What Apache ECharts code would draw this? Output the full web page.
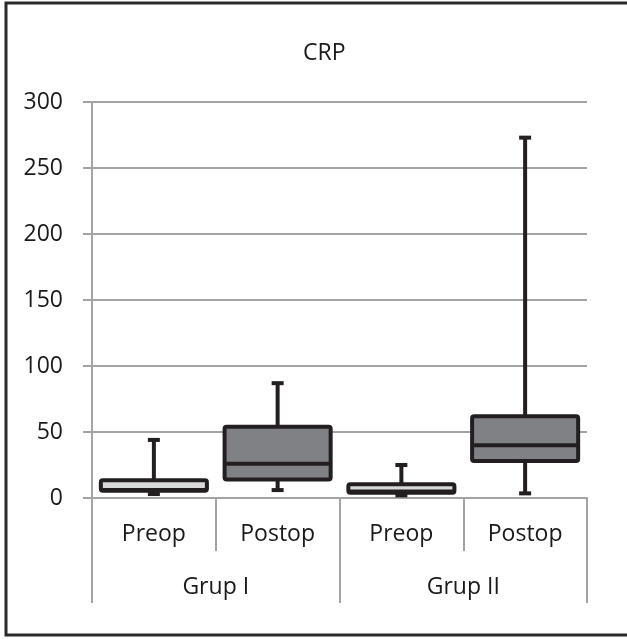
<!DOCTYPE html>
<html>
<head>
<meta charset="utf-8">
<script src="https://cdn.jsdelivr.net/npm/echarts@6/dist/echarts.min.js"></script>
<style>
  html, body { margin: 0; padding: 0; background: #fff; }
  #chart { width: 627px; height: 639px; }
</style>
</head>
<body>
<div id="chart"></div>
<script>
// Data
const categories = ['Preop', 'Postop', 'Preop', 'Postop'];
const groups = ['Grup I', 'Grup II'];
const yTicks = [0, 50, 100, 150, 200, 250, 300];
const minVals = [3, 6, 2, 3.5];
const q1Vals = [5.5, 14, 4, 28];
const medianVals = [6, 26, 5, 40];
const q3Vals = [13.4, 54, 10.4, 62];
const maxVals = [44, 87, 25, 273];

const FONT = 'Open Sans';
const DARK = '#231f20';
const GRID_GRAY = '#a3a3a3';
const fills = ['#d9d9d9', '#808184'];

const data = categories.map((c, i) => [i, minVals[i], q1Vals[i], medianVals[i], q3Vals[i], maxVals[i]]);

function renderItem(params, api) {
  const i = api.value(0);
  const x = api.coord([i, 0])[0];
  const yMin = api.coord([i, api.value(1)])[1];
  const yQ1 = api.coord([i, api.value(2)])[1];
  const yMed = api.coord([i, api.value(3)])[1];
  const yQ3 = api.coord([i, api.value(4)])[1];
  const yMax = api.coord([i, api.value(5)])[1];
  const band = api.size([1, 0])[0];
  const bw = band * 0.857;
  const capW = 12, capH = 4;
  const fill = fills[i % 2];
  return {
    type: 'group',
    children: [
      { type: 'line', shape: { x1: x, y1: yMax, x2: x, y2: yMin },
        style: { stroke: DARK, lineWidth: 4 } },
      { type: 'rect', shape: { x: x - capW / 2, y: yMax - capH / 2, width: capW, height: capH },
        style: { fill: DARK } },
      { type: 'rect', shape: { x: x - capW / 2, y: yMin - capH / 2, width: capW, height: capH },
        style: { fill: DARK } },
      { type: 'rect', shape: { x: x - bw / 2, y: yQ3, width: bw, height: yQ1 - yQ3, r: 2 },
        style: { fill: fill, stroke: DARK, lineWidth: 4, lineJoin: 'round' } },
      { type: 'line', shape: { x1: x - bw / 2, y1: yMed, x2: x + bw / 2, y2: yMed },
        style: { stroke: DARK, lineWidth: 4 } }
    ]
  };
}

const chart = echarts.init(document.getElementById('chart'), null, { renderer: 'canvas' });
chart.setOption({
  animation: false,
  backgroundColor: '#fff',
  title: {
    text: 'CRP', left: 298, top: 37,
    textStyle: { fontFamily: FONT, fontSize: 23, fontWeight: 'normal', color: '#1a1a1a' }
  },
  grid: { left: 92, right: 40, top: 102, bottom: 141 },
  xAxis: [
    {
      type: 'category', data: categories, position: 'bottom',
      axisLine: { show: true, lineStyle: { color: GRID_GRAY, width: 2 } },
      axisTick: { show: true, length: 53, lineStyle: { color: GRID_GRAY, width: 2 } },
      axisLabel: { fontFamily: FONT, fontSize: 23, color: '#1a1a1a', margin: 25 },
      splitLine: { show: false }
    },
    {
      type: 'category', data: groups, position: 'bottom',
      axisLine: { show: false },
      axisTick: { show: true, length: 105, lineStyle: { color: GRID_GRAY, width: 2 } },
      axisLabel: { fontFamily: FONT, fontSize: 23, color: '#1a1a1a', margin: 78 },
      splitLine: { show: false }
    }
  ],
  yAxis: {
    type: 'value', min: yTicks[0], max: yTicks[yTicks.length - 1], interval: yTicks[1] - yTicks[0],
    axisLine: { show: true, lineStyle: { color: GRID_GRAY, width: 2 } },
    axisTick: { show: true, length: 9, lineStyle: { color: GRID_GRAY, width: 2 } },
    axisLabel: { fontFamily: FONT, fontSize: 23, color: '#1a1a1a', margin: 29 },
    splitLine: { show: true, lineStyle: { color: GRID_GRAY, width: 2 } }
  },
  graphic: [
    { type: 'rect', shape: { x: 6, y: 3, width: 660, height: 632 },
      style: { fill: 'none', stroke: '#2b2b2b', lineWidth: 3 }, z: 100 }
  ],
  series: [{
    type: 'custom',
    xAxisIndex: 0,
    renderItem: renderItem,
    encode: { x: 0, y: [1, 2, 3, 4, 5] },
    data: data
  }]
});
</script>
</body>
</html>
